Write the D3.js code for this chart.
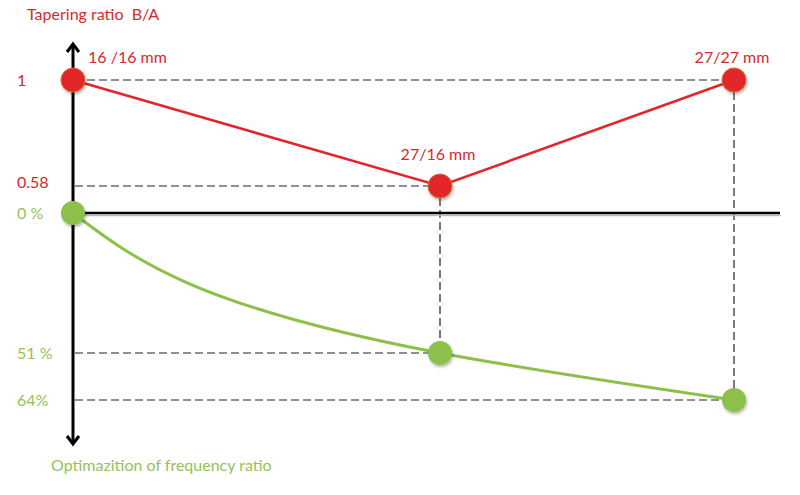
<!DOCTYPE html>
<html>
<head>
<meta charset="utf-8">
<script src="https://cdn.jsdelivr.net/npm/d3@7"></script>
<style>
  html, body { margin: 0; padding: 0; background: #fff; }
  svg { display: block; font-family: Lato, "Open Sans", sans-serif; }
</style>
</head>
<body>
<svg id="chart" width="800" height="495"></svg>
<script>
// ---- data ----
const categories = ["16 /16 mm", "27/16 mm", "27/27 mm"];
const taperingRatio = [1, 0.58, 1];
const frequencyOptimization = [0, 51, 64];
const taperingTicks = [1, 0.58];
const taperingTickLabels = ["1", "0.58"];
const frequencyTicks = [0, 51, 64];
const frequencyTickLabels = ["0 %", "51 %", "64%"];
const yTitleTop = "Tapering ratio  B/A";
const yTitleBottom = "Optimazition of frequency ratio";

// ---- layout / styles ----
const RED = "#E3262B", RED_TXT = "#D62A2E", GREEN = "#8DC04B", GREEN_TXT = "#93C25A";
const FS = 16;
const svg = d3.select("#chart");

const defs = svg.append("defs");
const f = defs.append("filter").attr("id", "sh").attr("x", "-50%").attr("y", "-50%").attr("width", "200%").attr("height", "200%");
f.append("feDropShadow").attr("dx", 1).attr("dy", 2).attr("stdDeviation", 1.5).attr("flood-color", "#000").attr("flood-opacity", 0.3);

const idx = categories.map((d, i) => i);
// schematic (non-uniform) scales
const x = d3.scaleLinear().domain([0, 1, 2]).range([73, 440, 734]);
const yRed = d3.scaleLinear().domain([0.58, 1]).range([186, 80]);
const yGreen = d3.scaleLinear().domain([0, 51, 64]).range([213, 353, 400]);
const axisX = x(0);

// ---- dashed guide lines ----
const dash = svg.append("g").attr("stroke", "#222").attr("stroke-width", 1.2).attr("stroke-dasharray", "8,4").attr("fill", "none");
idx.forEach(i => {
  if (i === 0) return;
  dash.append("line").attr("x1", axisX + 2).attr("x2", x(i)).attr("y1", yRed(taperingRatio[i])).attr("y2", yRed(taperingRatio[i]));
  dash.append("line").attr("x1", axisX + 2).attr("x2", x(i)).attr("y1", yGreen(frequencyOptimization[i])).attr("y2", yGreen(frequencyOptimization[i]));
  dash.append("line").attr("x1", x(i)).attr("x2", x(i)).attr("y1", yRed(taperingRatio[i])).attr("y2", yGreen(frequencyOptimization[i]));
});

// ---- axes ----
const ax = svg.append("g").attr("stroke", "#000").attr("fill", "none");
// faint shadow under the horizontal axis
ax.append("line").attr("x1", axisX).attr("x2", 781).attr("y1", yGreen(0) + 2.5).attr("y2", yGreen(0) + 2.5).attr("stroke", "#bbb").attr("stroke-width", 1.5);
ax.append("line").attr("x1", axisX).attr("x2", 780).attr("y1", yGreen(0)).attr("y2", yGreen(0)).attr("stroke-width", 2.6);
ax.append("line").attr("x1", axisX).attr("x2", axisX).attr("y1", 44).attr("y2", 444).attr("stroke-width", 3);
ax.append("path").attr("d", `M${axisX - 6},${52} L${axisX},${44} L${axisX + 6},${52}`).attr("stroke-width", 3).attr("stroke-linejoin", "miter");
ax.append("path").attr("d", `M${axisX - 6},${436} L${axisX},${444} L${axisX + 6},${436}`).attr("stroke-width", 3).attr("stroke-linejoin", "miter");

// ---- lines ----
const redLine = d3.line().x(i => x(i)).y(i => yRed(taperingRatio[i]));
svg.append("path").attr("d", redLine(idx)).attr("fill", "none").attr("stroke", RED).attr("stroke-width", 2.6);
const greenLine = d3.line().x(i => x(i)).y(i => yGreen(frequencyOptimization[i])).curve(d3.curveMonotoneY);
svg.append("path").attr("d", greenLine(idx)).attr("fill", "none").attr("stroke", GREEN).attr("stroke-width", 3);

// ---- points ----
svg.append("g").selectAll("circle").data(idx).join("circle")
  .attr("cx", i => x(i)).attr("cy", i => yRed(taperingRatio[i])).attr("r", 12)
  .attr("fill", RED).attr("stroke", "#D86A2A").attr("stroke-width", 1).attr("filter", "url(#sh)");
svg.append("g").selectAll("circle").data(idx).join("circle")
  .attr("cx", i => x(i)).attr("cy", i => yGreen(frequencyOptimization[i])).attr("r", 12)
  .attr("fill", GREEN).attr("filter", "url(#sh)");

// ---- point labels ----
svg.append("g").selectAll("text").data(idx).join("text")
  .attr("x", i => i === 0 ? x(i) + 15 : x(i) - 2)
  .attr("y", i => yRed(taperingRatio[i]) - (i === 1 ? 26 : 17))
  .attr("text-anchor", i => i === 0 ? "start" : "middle")
  .attr("fill", RED_TXT).attr("font-size", FS).text(i => categories[i]);

// ---- tick labels ----
svg.append("g").selectAll("text").data(taperingTicks).join("text")
  .attr("x", 17).attr("y", (d, i) => yRed(d) + (i === 1 ? 2 : 6))
  .attr("fill", RED_TXT).attr("font-size", FS).text((d, i) => taperingTickLabels[i]);
svg.append("g").selectAll("text").data(frequencyTicks).join("text")
  .attr("x", 17).attr("y", d => yGreen(d) + 6)
  .attr("fill", GREEN_TXT).attr("font-size", FS).text((d, i) => frequencyTickLabels[i]);

// ---- axis titles ----
svg.append("text").attr("x", 27).attr("y", 20).attr("fill", RED_TXT).attr("font-size", FS).style("white-space", "pre").text(yTitleTop);
svg.append("text").attr("x", 51).attr("y", 471).attr("fill", GREEN_TXT).attr("font-size", FS).text(yTitleBottom);
</script>
</body>
</html>
